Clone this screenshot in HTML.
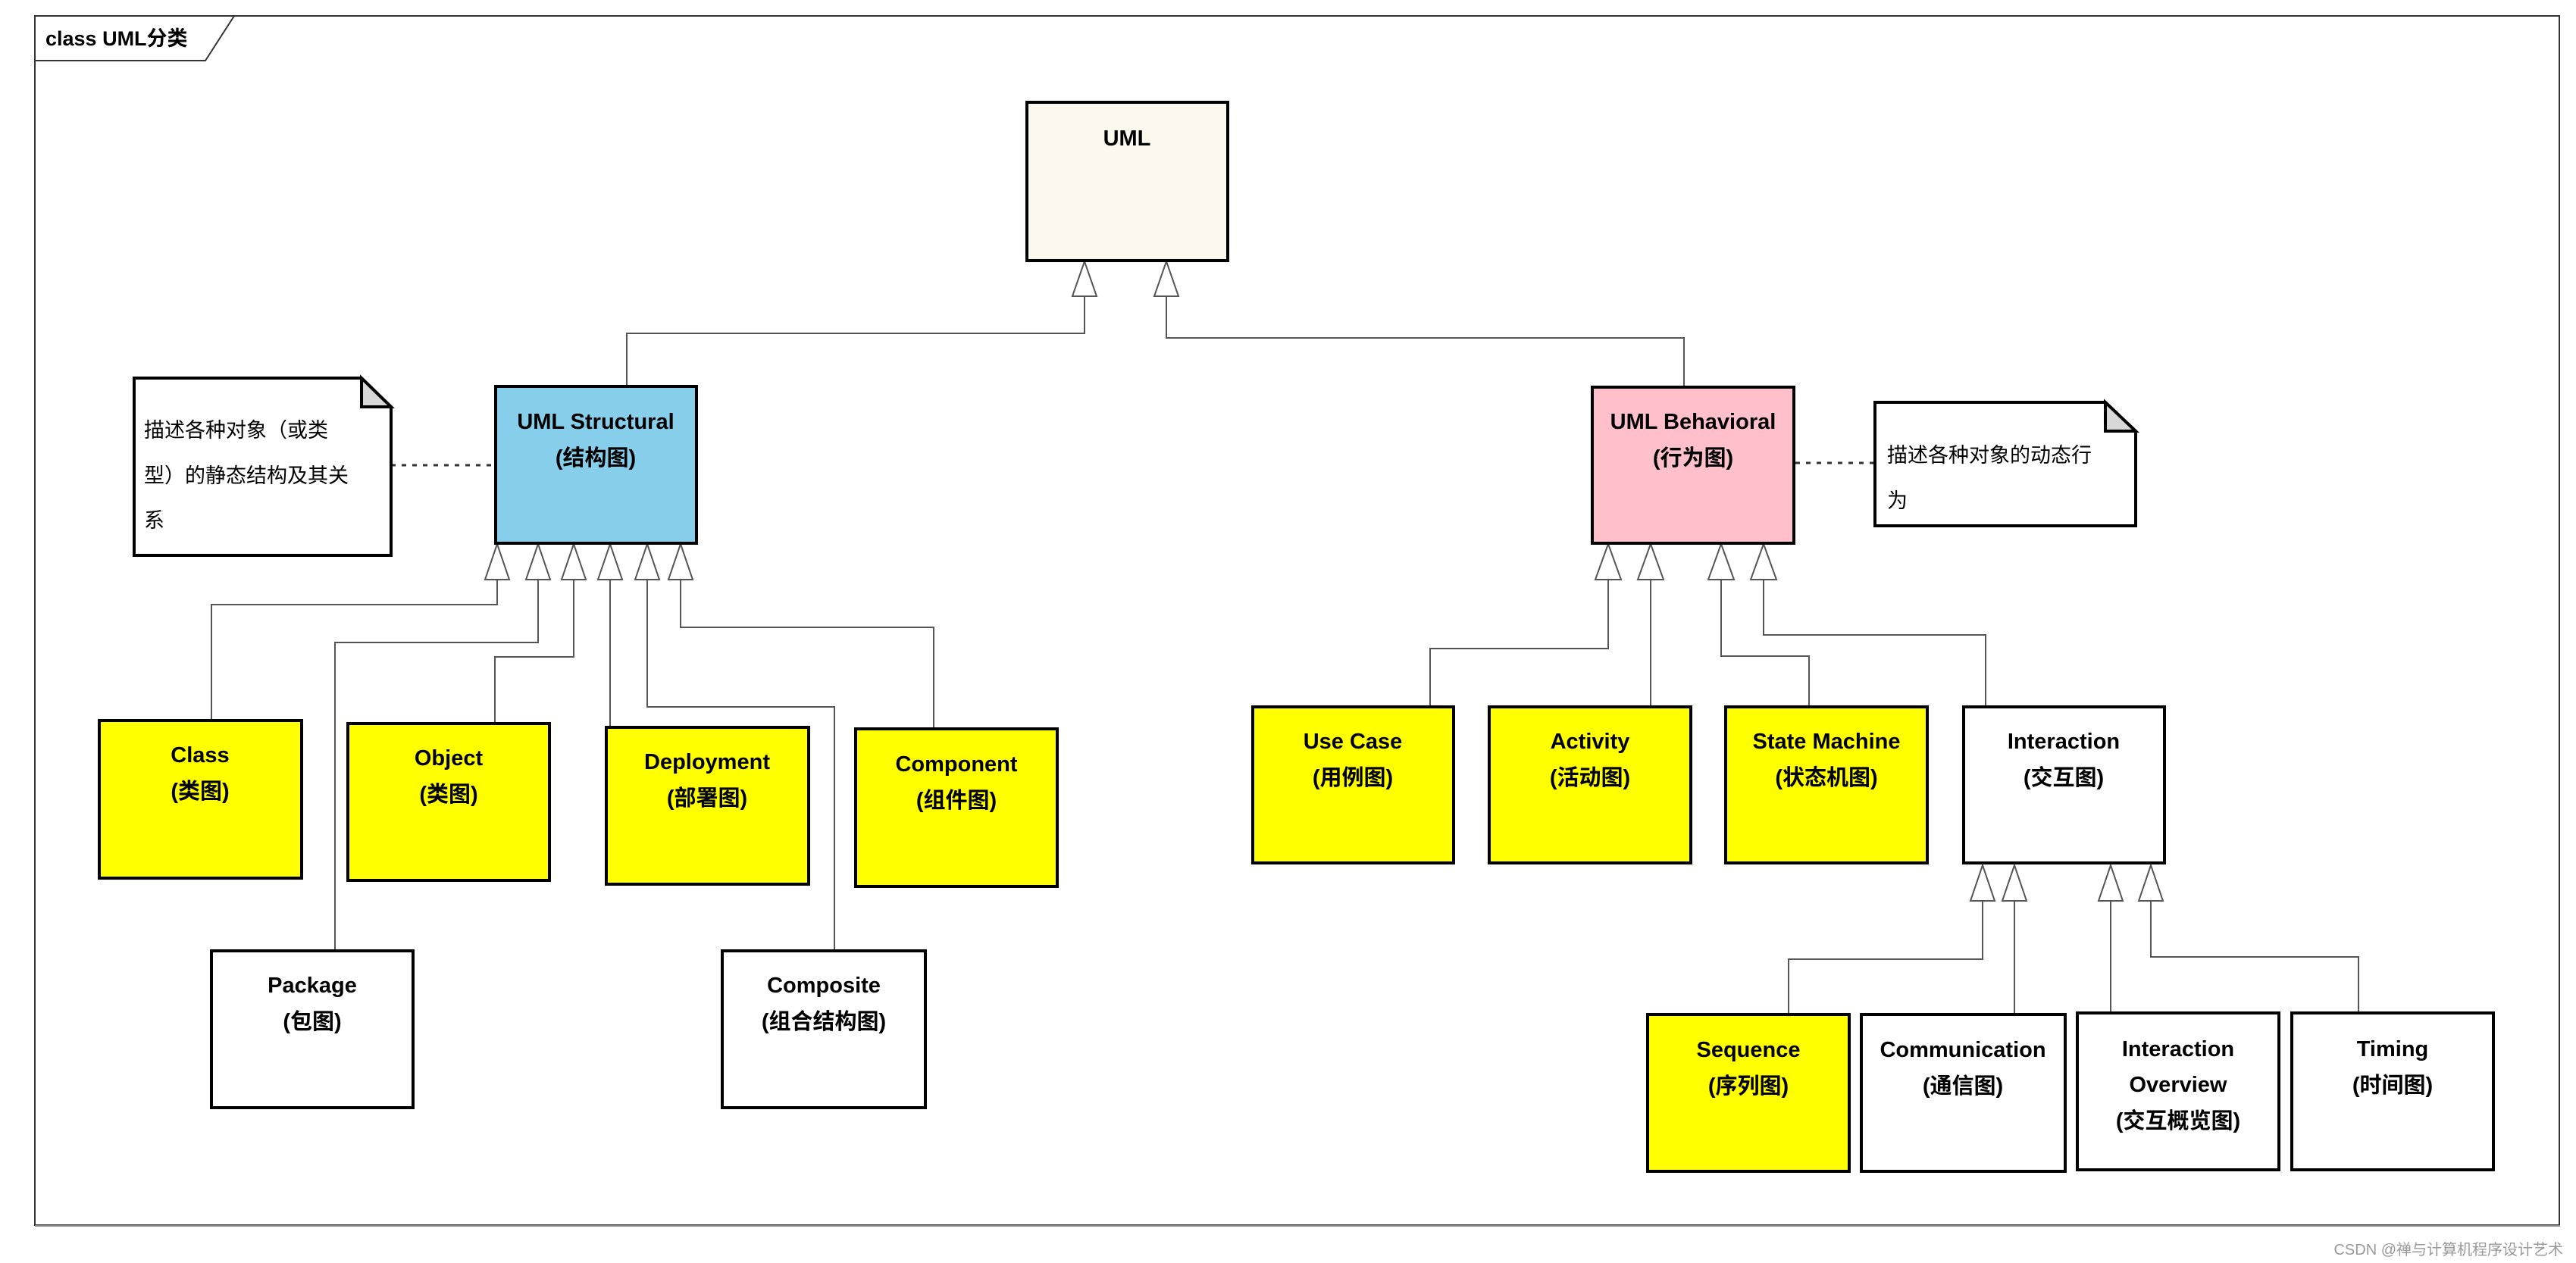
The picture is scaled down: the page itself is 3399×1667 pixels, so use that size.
<!DOCTYPE html>
<html><head><meta charset="utf-8"><style>
html,body{margin:0;padding:0;background:#fff;}
svg{display:block;}
text{font-family:"Liberation Sans","Noto Sans CJK SC",sans-serif;}
.t{font-weight:bold;font-size:29px;text-anchor:middle;fill:#000;}
.n{font-size:27px;fill:#000;}
.c{fill:none;stroke:#555;stroke-width:2;}
.a{fill:#fff;stroke:#555;stroke-width:2;}
.b{stroke:#000;stroke-width:4;}
</style></head><body>
<svg width="3399" height="1667" viewBox="0 0 3399 1667" xmlns="http://www.w3.org/2000/svg">
<rect x="0" y="0" width="3399" height="1667" fill="#fff"/>
<!-- frame -->
<rect x="46" y="21" width="3331" height="1596" fill="none" stroke="#333" stroke-width="2"/>
<line x1="46" y1="1618" x2="3378" y2="1618" stroke="#888" stroke-width="2"/>
<path d="M46,80 L271,80 L309,21" fill="none" stroke="#333" stroke-width="2"/>
<text x="60" y="60" style="font-weight:bold;font-size:27px;">class UML分类</text>

<!-- connectors -->
<g class="c">
<polyline points="1431,391 1431,440 827,440 827,509"/>
<polyline points="1539,391 1539,446 2222,446 2222,509"/>
<polyline points="656,765 656,798 279,798 279,950"/>
<polyline points="710,765 710,848 442,848 442,1254"/>
<polyline points="757,765 757,867 653,867 653,953"/>
<polyline points="805,765 805,959"/>
<polyline points="854,765 854,933 1101,933 1101,1254"/>
<polyline points="898,765 898,828 1232,828 1232,961"/>
<polyline points="2122,765 2122,856 1887,856 1887,932"/>
<polyline points="2178,765 2178,932"/>
<polyline points="2271,765 2271,866 2387,866 2387,932"/>
<polyline points="2327,765 2327,838 2620,838 2620,932"/>
<polyline points="2616,1189 2616,1266 2360,1266 2360,1338"/>
<polyline points="2658,1189 2658,1338"/>
<polyline points="2785,1189 2785,1336"/>
<polyline points="2838,1189 2838,1263 3112,1263 3112,1336"/>
</g>
<!-- dotted note links -->
<line x1="516" y1="614" x2="653" y2="614" stroke="#333" stroke-width="3" stroke-dasharray="6,8"/>
<line x1="2369" y1="611" x2="2473" y2="611" stroke="#333" stroke-width="3" stroke-dasharray="6,8"/>

<!-- arrowheads -->
<g class="a">
<polygon points="1431,345 1415,391 1447,391"/>
<polygon points="1539,345 1523,391 1555,391"/>
<polygon points="656,718 640,765 672,765"/>
<polygon points="710,718 694,765 726,765"/>
<polygon points="757,718 741,765 773,765"/>
<polygon points="805,718 789,765 821,765"/>
<polygon points="854,718 838,765 870,765"/>
<polygon points="898,718 882,765 914,765"/>
<polygon points="2122,718 2105,765 2139,765"/>
<polygon points="2178,718 2161,765 2195,765"/>
<polygon points="2271,718 2254,765 2288,765"/>
<polygon points="2327,718 2310,765 2344,765"/>
<polygon points="2616,1142 2600,1189 2632,1189"/>
<polygon points="2658,1142 2642,1189 2674,1189"/>
<polygon points="2785,1142 2769,1189 2801,1189"/>
<polygon points="2838,1142 2822,1189 2854,1189"/>
</g>

<!-- boxes -->
<g class="b">
<rect x="1355" y="135" width="265" height="209" fill="#fdf8ee"/>
<rect x="654" y="510" width="265" height="207" fill="#87ceeb"/>
<rect x="2101" y="511" width="266" height="206" fill="#ffc0cb"/>
<rect x="131" y="951" width="267" height="208" fill="#ffff00"/>
<rect x="459" y="955" width="266" height="207" fill="#ffff00"/>
<rect x="800" y="960" width="267" height="207" fill="#ffff00"/>
<rect x="1129" y="962" width="266" height="208" fill="#ffff00"/>
<rect x="279" y="1255" width="266" height="207" fill="#fff"/>
<rect x="953" y="1255" width="268" height="207" fill="#fff"/>
<rect x="1653" y="933" width="265" height="206" fill="#ffff00"/>
<rect x="1965" y="933" width="266" height="206" fill="#ffff00"/>
<rect x="2277" y="933" width="266" height="206" fill="#ffff00"/>
<rect x="2591" y="933" width="265" height="206" fill="#fff"/>
<rect x="2174" y="1339" width="266" height="207" fill="#ffff00"/>
<rect x="2456" y="1339" width="269" height="207" fill="#fff"/>
<rect x="2741" y="1337" width="266" height="207" fill="#fff"/>
<rect x="3024" y="1337" width="266" height="207" fill="#fff"/>
<!-- notes -->
<path d="M177,499 L477,499 L516,537 L516,733 L177,733 Z" fill="#fff"/>
<path d="M477,499 L477,537 L516,537 Z" fill="#d8d8d8"/>
<path d="M2474,531 L2778,531 L2818,569 L2818,694 L2474,694 Z" fill="#fff"/>
<path d="M2778,531 L2778,569 L2818,569 Z" fill="#d8d8d8"/>
</g>

<!-- labels -->
<text class="t" x="1487" y="192">UML</text>
<text class="t" x="786" y="566">UML Structural</text>
<text class="t" x="786" y="614">(结构图)</text>
<text class="t" x="2234" y="566">UML Behavioral</text>
<text class="t" x="2234" y="614">(行为图)</text>

<text class="t" x="264" y="1006">Class</text><text class="t" x="264" y="1054">(类图)</text>
<text class="t" x="592" y="1010">Object</text><text class="t" x="592" y="1058">(类图)</text>
<text class="t" x="933" y="1015">Deployment</text><text class="t" x="933" y="1063">(部署图)</text>
<text class="t" x="1262" y="1018">Component</text><text class="t" x="1262" y="1066">(组件图)</text>
<text class="t" x="412" y="1310">Package</text><text class="t" x="412" y="1358">(包图)</text>
<text class="t" x="1087" y="1310">Composite</text><text class="t" x="1087" y="1358">(组合结构图)</text>

<text class="t" x="1785" y="988">Use Case</text><text class="t" x="1785" y="1036">(用例图)</text>
<text class="t" x="2098" y="988">Activity</text><text class="t" x="2098" y="1036">(活动图)</text>
<text class="t" x="2410" y="988">State Machine</text><text class="t" x="2410" y="1036">(状态机图)</text>
<text class="t" x="2723" y="988">Interaction</text><text class="t" x="2723" y="1036">(交互图)</text>

<text class="t" x="2307" y="1395">Sequence</text><text class="t" x="2307" y="1443">(序列图)</text>
<text class="t" x="2590" y="1395">Communication</text><text class="t" x="2590" y="1443">(通信图)</text>
<text class="t" x="2874" y="1394">Interaction</text><text class="t" x="2874" y="1441">Overview</text><text class="t" x="2874" y="1489">(交互概览图)</text>
<text class="t" x="3157" y="1394">Timing</text><text class="t" x="3157" y="1442">(时间图)</text>

<text class="n" x="190" y="577">描述各种对象（或类</text>
<text class="n" x="190" y="637">型）的静态结构及其关</text>
<text class="n" x="190" y="696">系</text>
<text class="n" x="2490" y="610">描述各种对象的动态行</text>
<text class="n" x="2490" y="670">为</text>

<text x="3382" y="1656" style="font-size:20px;fill:#999;text-anchor:end;">CSDN @禅与计算机程序设计艺术</text>
</svg>
</body></html>
